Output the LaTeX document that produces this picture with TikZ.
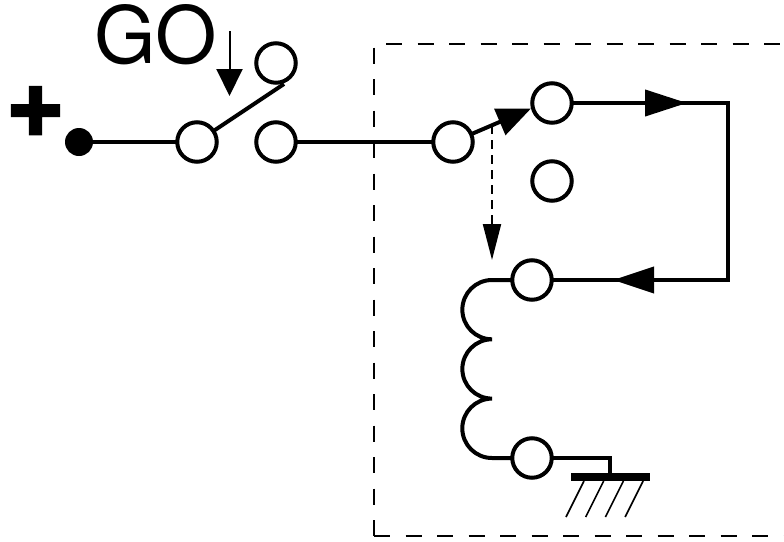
\documentclass[tikz,border=0pt]{standalone}
\usepackage{fontspec}
\setmainfont{TeX Gyre Heros}
\newfontfamily\plusfont[FakeBold=3]{TeX Gyre Heros Bold}
\usetikzlibrary{arrows.meta}
\tikzset{
  x=1pt,y=-1pt,
  contact/.style={circle,draw=black,fill=white,line width=4pt,minimum size=39.5pt,inner sep=0pt,outer sep=0pt},
  wire/.style={line width=4pt},
  dashbox/.style={line width=2pt,dash pattern=on 16pt off 15.5pt},
  hatch/.style={line width=1.6pt},
}
\begin{document}
\begin{tikzpicture}
\useasboundingbox (0,0) rectangle (784,541);
% coordinates
\coordinate (boxa) at (374,47.7);
\coordinate (boxb) at (374,536);
\coordinate (boxc) at (784,536);
\coordinate (boxd) at (386,44);
\coordinate (boxe) at (784,44);
\coordinate (bladeend) at (284,84);
\coordinate (j1) at (728,103);
\coordinate (j2) at (728,280);
\coordinate (t1) at (687,103);
\coordinate (t2) at (613,280);
\coordinate (tap) at (492,125);
\coordinate (taptip) at (492,260);
\coordinate (ctip) at (531,108.5);
\coordinate (goa) at (229.5,31);
\coordinate (gob) at (229.5,96);
\coordinate (lt) at (492,280);
\coordinate (lb) at (492,458);
\coordinate (gj) at (610,458);
\coordinate (gb) at (610,473);
\coordinate (ga) at (571,477);
\coordinate (gc) at (650,477);
% enclosure
\draw[dashbox] (boxa) -- (boxb);
\draw[dashbox] (boxb) -- (boxc);
\draw[dashbox] (boxd) -- (boxe);
% text
\node[inner sep=0pt,anchor=base west,font=\fontsize{79}{79}\selectfont] (go) at (94,63.5) {GO};
\node[inner sep=0pt,font=\fontsize{100}{100}\plusfont\selectfont] (plus) at (35.5,111.5) {+};
% nodes
\node[circle,fill=black,minimum size=28pt,inner sep=0pt] (dot) at (79,142) {};
\node[contact] (s1) at (197,142) {};
\node[contact] (s2) at (276,63) {};
\node[contact] (s3) at (276,142) {};
\node[contact] (r1) at (453,142) {};
\node[contact] (r2) at (552,103) {};
\node[contact] (r3) at (552,181) {};
\node[contact] (k1) at (532,280) {};
\node[contact] (k2) at (532,458) {};
% wires
\draw[wire] (dot) -- (s1);
\draw[wire] (s3) -- (r1);
\draw[wire] (s1) -- (bladeend);
\draw[line width=2pt,-{Triangle[length=27pt,width=26pt]}] (goa) -- (gob);
\draw[wire,miter limit=10] (r2) -- (j1) -- (j2) -- (k1);
\draw[wire,-{Triangle[length=42pt,width=26pt]}] (r2) -- (t1);
\draw[wire,-{Triangle[length=41pt,width=26pt]}] (j2) -- (t2);
\draw[wire,-{Triangle[length=34pt,width=28pt]}] (r1) -- (ctip);
\draw[line width=2pt,dash pattern=on 9pt off 6pt,-{Triangle[length=36pt,width=18pt]}] (tap) -- (taptip);
% coil
\draw[wire] (k1) -- (lt)
  arc[start angle=270,end angle=90,radius=29.65]
  arc[start angle=270,end angle=90,radius=29.65]
  arc[start angle=270,end angle=90,radius=29.7] -- (k2);
% ground
\draw[wire] (k2) -- (gj) -- (gb);
\draw[line width=8pt] (ga) -- (gc);
\foreach \i in {0,1,2,3}
  \draw[hatch] ([xshift=\i*19.7pt]584,481) -- ([xshift=\i*19.7pt]566,517);
\end{tikzpicture}
\end{document}
